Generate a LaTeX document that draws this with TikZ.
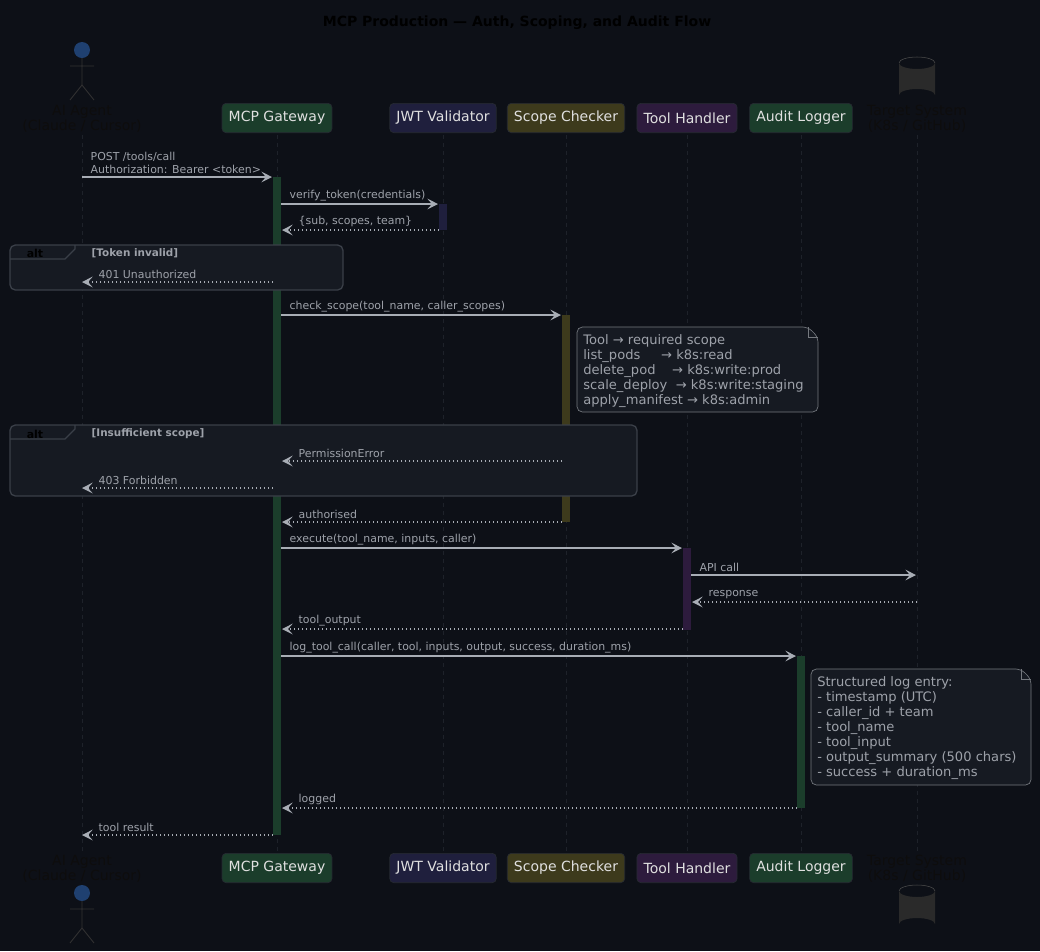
\documentclass[tikz,border=0pt]{standalone}
\usepackage{fontspec}
\setmainfont{DejaVu Sans}
\usetikzlibrary{arrows.meta,shapes.geometric}
\definecolor{bg}{HTML}{0D1017}
\definecolor{ln}{HTML}{A8ADB5}
\definecolor{tx}{HTML}{9EA2AA}
\definecolor{gw}{HTML}{1B3D2B}
\definecolor{jw}{HTML}{1F1F3D}
\definecolor{sc}{HTML}{3D3A1C}
\definecolor{th}{HTML}{2D1B3D}
\definecolor{frame}{HTML}{161A22}
\definecolor{fb}{HTML}{3A3F48}
\definecolor{pb}{HTML}{262A32}
\definecolor{lifel}{HTML}{1E222A}
\definecolor{actc}{HTML}{1F4070}
\definecolor{cyl}{HTML}{2A2A2A}
\tikzset{
 part/.style={rounded corners=3pt,draw=pb,line width=0.5pt,text=white!88!black,font=\fontsize{10.5}{12}\selectfont,minimum height=22pt,inner xsep=5pt},
 msg/.style={ln,line width=1pt,-{Stealth[length=8pt,width=8pt,inset=3.5pt]}},
 ret/.style={msg,dotted},
 lab/.style={text=tx,font=\fontsize{8.2}{9.8}\selectfont,anchor=south west,inner sep=1pt,align=left},
 notebox/.style={fill=frame,draw=fb!70,line width=0.5pt},
 notetext/.style={text=tx,font=\fontsize{9.8}{11.3}\selectfont,align=left,anchor=north west,inner sep=0pt},
 dark/.style={text=black!95,font=\fontsize{10.5}{11.5}\selectfont,align=center},
}
\begin{document}
\begin{tikzpicture}[x=0.75pt,y=-0.75pt]
\fill[bg] (0,0) rectangle (1040,951);
\useasboundingbox (0,0) rectangle (1040,951);
\node[font=\bfseries\fontsize{10.5}{12}\selectfont,text=black] (title) at (517,23) {MCP Production — Auth, Scoping, and Audit Flow};
% lifelines
\foreach \x in {82,277,443,566,687,801,917}{\draw[lifel,dashed,line width=0.5pt] (\x,135) -- (\x,852);}
% participants top / bottom
\foreach \y/\s in {118/t,868/b}{
 \node[part,fill=gw] (gw\s) at (277,\y) {MCP Gateway};
 \node[part,fill=jw] (jw\s) at (443,\y) {JWT Validator};
 \node[part,fill=sc] (sc\s) at (566,\y) {Scope Checker};
 \node[part,fill=th] (th\s) at (687,\y) {Tool Handler};
 \node[part,fill=gw] (al\s) at (801,\y) {Audit Logger};
}
\node[dark] (agt) at (82,119) {AI Agent\\(Claude / Cursor)};
\node[dark] (tst) at (917,119) {Target System\\(K8s / GitHub)};
\node[dark] (agb) at (82,869) {AI Agent\\(Claude / Cursor)};
\node[dark] (tsb) at (917,869) {Target System\\(K8s / GitHub)};
% actors
\foreach \h in {50,893}{
 \fill[actc] (82,\h) circle (8);
 \draw[black!80,line width=0.6pt] (82,\h+8) -- (82,\h+35) (70,\h+16) -- (94,\h+16) (70,\h+50) -- (82,\h+35) -- (94,\h+50);
}
% cylinders
\foreach \t/\b in {57/101,885/930}{
 \fill[cyl] (899,\t+6) -- (899,\b-6) arc[start angle=180,end angle=360,x radius=18,y radius=6] -- (935,\t+6) arc[start angle=0,end angle=180,x radius=18,y radius=6] -- cycle;
 \draw[black!70] (899,\t+6) arc[start angle=180,end angle=360,x radius=18,y radius=6];
}
% activations
\fill[gw] (273,177) rectangle (281,835);
\fill[jw] (439,204) rectangle (447,230);
\fill[sc] (562,315) rectangle (570,522);
\fill[th] (683,548) rectangle (691,630);
\fill[gw] (797,656) rectangle (805,808);
% alt frames
\draw[fb,line width=1pt,fill=frame,rounded corners=4pt] (10,245) rectangle (343,290);
\draw[fb,line width=1pt] (10,259) -- (65,259) -- (75,249) -- (75,245);
\node[font=\bfseries\fontsize{8.2}{10}\selectfont,text=black] (alt1) at (35,253) {alt};
\node[font=\bfseries\fontsize{7.8}{10}\selectfont,text=tx,anchor=west] (g1) at (87,253) {[Token invalid]};
\draw[fb,line width=1pt,fill=frame,rounded corners=4pt] (10,425) rectangle (637,496);
\draw[fb,line width=1pt] (10,439) -- (65,439) -- (75,429) -- (75,425);
\node[font=\bfseries\fontsize{8.2}{10}\selectfont,text=black] (alt2) at (35,434) {alt};
\node[font=\bfseries\fontsize{7.8}{10}\selectfont,text=tx,anchor=west] (g2) at (87,434) {[Insufficient scope]};
% messages
\draw[msg] (82,177) -- (272,177) node[lab,pos=0,xshift=5pt,yshift=1pt] {POST /tools/call\\Authorization: Bearer <token>};
\draw[msg] (281,204) -- (438,204) node[lab,pos=0,xshift=5pt,yshift=1pt] {verify\_token(credentials)};
\draw[ret] (439,230) -- (282,230) node[lab,pos=1,xshift=11pt,yshift=1pt] {\{sub, scopes, team\}};
\draw[ret] (273,282) -- (82,282) node[lab,pos=1,xshift=11pt,yshift=1pt] {401 Unauthorized};
\draw[msg] (281,315) -- (561,315) node[lab,pos=0,xshift=5pt,yshift=1pt] {check\_scope(tool\_name, caller\_scopes)};
\draw[ret] (562,461) -- (282,461) node[lab,pos=1,xshift=11pt,yshift=1pt] {PermissionError};
\draw[ret] (273,488) -- (82,488) node[lab,pos=1,xshift=11pt,yshift=1pt] {403 Forbidden};
\draw[ret] (562,522) -- (282,522) node[lab,pos=1,xshift=11pt,yshift=1pt] {authorised};
\draw[msg] (281,548) -- (682,548) node[lab,pos=0,xshift=5pt,yshift=1pt] {execute(tool\_name, inputs, caller)};
\draw[msg] (691,575) -- (916,575) node[lab,pos=0,xshift=5pt,yshift=1pt] {API call};
\draw[ret] (917,602) -- (692,602) node[lab,pos=1,xshift=11pt,yshift=1pt] {response};
\draw[ret] (683,629) -- (282,629) node[lab,pos=1,xshift=11pt,yshift=1pt] {tool\_output};
\draw[msg] (281,656) -- (796,656) node[lab,pos=0,xshift=5pt,yshift=1pt] {log\_tool\_call(caller, tool, inputs, output, success, duration\_ms)};
\draw[ret] (797,808) -- (282,808) node[lab,pos=1,xshift=11pt,yshift=1pt] {logged};
\draw[ret] (273,835) -- (82,835) node[lab,pos=1,xshift=11pt,yshift=1pt] {tool result};
% notes
\draw[notebox,rounded corners=4pt] (577,327) -- (808,327) -- (818,337) -- (818,412) -- (577,412) -- cycle;
\draw[fb!70] (808,327) -- (808,337) -- (818,337);
\node[notetext] (n1) at (583,334) {Tool → required scope\\list\_pods\ \ \ \ \ → k8s:read\\delete\_pod\ \ \ \ → k8s:write:prod\\scale\_deploy\ \ → k8s:write:staging\\apply\_manifest → k8s:admin};
\draw[notebox,rounded corners=4pt] (811,669) -- (1021,669) -- (1031,679) -- (1031,785) -- (811,785) -- cycle;
\draw[fb!70] (1021,669) -- (1021,679) -- (1031,679);
\node[notetext] (n2) at (817,676) {Structured log entry:\\- timestamp (UTC)\\- caller\_id + team\\- tool\_name\\- tool\_input\\- output\_summary (500 chars)\\- success + duration\_ms};
\end{tikzpicture}
\end{document}
